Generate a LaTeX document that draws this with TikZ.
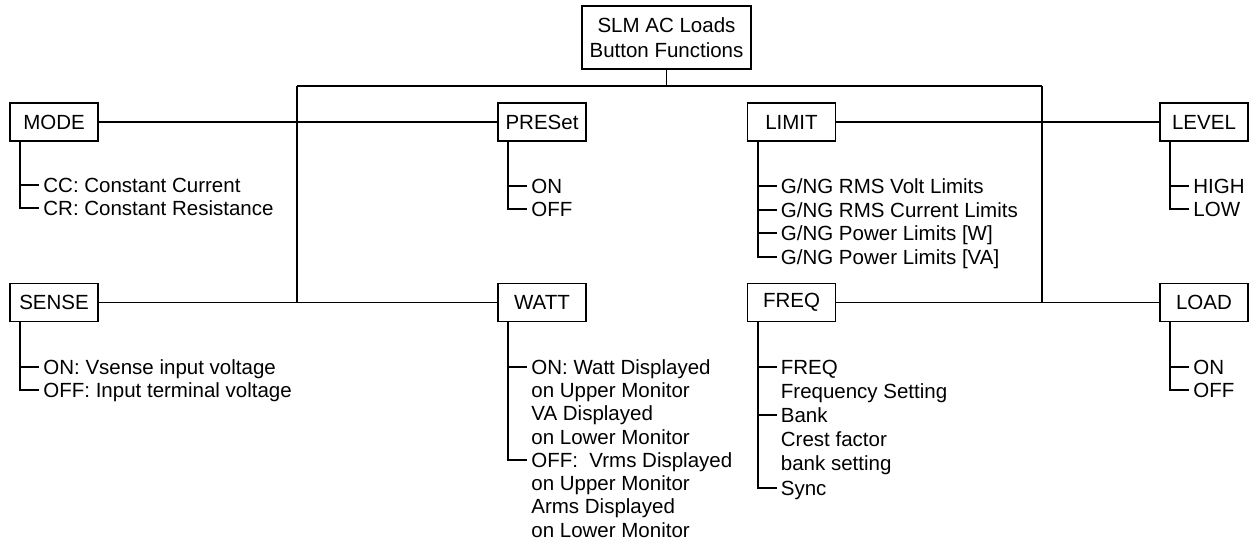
\documentclass[tikz,border=0pt]{standalone}
\usepackage{fontspec}
\setmainfont{Liberation Sans}
\usetikzlibrary{positioning}
\newcommand{\itemrows}[1]{\begin{tabular}[t]{@{}l@{}}#1\end{tabular}}

\begin{document}
\begin{tikzpicture}[x=0.5pt,y=-0.5pt,
        every node/.style={inner sep=0pt,font=\fontsize{10.25}{11.65}\selectfont},
        btn/.style={draw,line width=0.8pt,minimum width=44pt,minimum height=19pt},
        item/.style={anchor=west,text height=7.35pt,text depth=0pt},
        wide/.style={font=\fontsize{10.25}{12.1}\selectfont},
        wire/.style={line width=0.8pt}]
                \useasboundingbox (0,0) rectangle (1249,548);
                \node [btn,minimum width=84.5pt,minimum height=31.5pt,align=center,font=\fontsize{10.25}{12.5}\selectfont] (root) at (666.5,37.5) {SLM AC Loads\\Button Functions};
                \node [btn] (mode) at (54,122) {MODE};
                \node [btn] (preset) at (542,122) {PRESet};
                \node [btn] (limit) at (791.5,122) {LIMIT};
                \node [btn] (level) at (1204,122) {LEVEL};
                \node [btn] (sense) at (54,302.5) {SENSE};
                \node [btn] (watt) at (542,302.5) {WATT};
                \node [btn] (freq) at (791.5,302.5) {FREQ};
                \node [btn] (load) at (1204,302.5) {LOAD};
                \coordinate (busl) at (297,86);
                \coordinate (busr) at (1042,86);
                \draw [wire] (root.south) -- (root.south |- busl);
                \draw [wire] (busl) -- (busr);
                \draw [wire] (busl) -- (busl |- sense);
                \draw [wire] (busr) -- (busr |- load);
                \draw [wire] (mode) -- (preset);
                \draw [wire] (limit) -- (level);
                \draw [wire] (sense) -- (watt);
                \draw [wire] (freq) -- (load);
                \node [item] (mode1) at (43,185) {CC: Constant Current};
                \node [item] (mode2) at (43,208) {CR: Constant Resistance};
                \draw [wire] ([xshift=5.5pt]mode.south west) |- ([xshift=-2pt]mode2.west);
                \draw [wire] ([xshift=5.5pt]mode.south west |- mode1.west) -- ([xshift=-2pt]mode1.west);
                \node [item] (preset1) at (531,186) {ON};
                \node [item] (preset2) at (531,209) {OFF};
                \draw [wire] ([xshift=5.5pt]preset.south west) |- ([xshift=-2pt]preset2.west);
                \draw [wire] ([xshift=5.5pt]preset.south west |- preset1.west) -- ([xshift=-2pt]preset1.west);
                \node [item] (limit1) at (780.5,186) {G/NG RMS Volt Limits};
                \node [item] (limit2) at (780.5,210) {G/NG RMS Current Limits};
                \node [item] (limit3) at (780.5,233) {G/NG Power Limits [W]};
                \node [item] (limit4) at (780.5,257) {G/NG Power Limits [VA]};
                \draw [wire] ([xshift=5.5pt]limit.south west) |- ([xshift=-2pt]limit4.west);
                \draw [wire] ([xshift=5.5pt]limit.south west |- limit1.west) -- ([xshift=-2pt]limit1.west);
                \draw [wire] ([xshift=5.5pt]limit.south west |- limit2.west) -- ([xshift=-2pt]limit2.west);
                \draw [wire] ([xshift=5.5pt]limit.south west |- limit3.west) -- ([xshift=-2pt]limit3.west);
                \node [item] (level1) at (1193,186) {HIGH};
                \node [item] (level2) at (1193,209) {LOW};
                \draw [wire] ([xshift=5.5pt]level.south west) |- ([xshift=-2pt]level2.west);
                \draw [wire] ([xshift=5.5pt]level.south west |- level1.west) -- ([xshift=-2pt]level1.west);
                \node [item] (sense1) at (43,367) {ON: Vsense input voltage};
                \node [item] (sense2) at (43,390) {OFF: Input terminal voltage};
                \draw [wire] ([xshift=5.5pt]sense.south west) |- ([xshift=-2pt]sense2.west);
                \draw [wire] ([xshift=5.5pt]sense.south west |- sense1.west) -- ([xshift=-2pt]sense1.west);
                \node [item] (watt1) at (531,367) {\itemrows{ON: Watt Displayed\\on Upper Monitor\\VA Displayed\\on Lower Monitor}};
                \node [item] (watt2) at (531,460) {\itemrows{OFF:\ \ Vrms Displayed\\on Upper Monitor\\Arms Displayed\\on Lower Monitor}};
                \draw [wire] ([xshift=5.5pt]watt.south west) |- ([xshift=-2pt]watt2.west);
                \draw [wire] ([xshift=5.5pt]watt.south west |- watt1.west) -- ([xshift=-2pt]watt1.west);
                \node [item,wide] (freq1) at (780.5,367) {\itemrows{FREQ\\Frequency Setting}};
                \node [item,wide] (freq2) at (780.5,415) {\itemrows{Bank\\Crest factor\\bank setting}};
                \node [item,wide] (freq3) at (780.5,488) {Sync};
                \draw [wire] ([xshift=5.5pt]freq.south west) |- ([xshift=-2pt]freq3.west);
                \draw [wire] ([xshift=5.5pt]freq.south west |- freq1.west) -- ([xshift=-2pt]freq1.west);
                \draw [wire] ([xshift=5.5pt]freq.south west |- freq2.west) -- ([xshift=-2pt]freq2.west);
                \node [item] (load1) at (1193,367) {ON};
                \node [item] (load2) at (1193,390) {OFF};
                \draw [wire] ([xshift=5.5pt]load.south west) |- ([xshift=-2pt]load2.west);
                \draw [wire] ([xshift=5.5pt]load.south west |- load1.west) -- ([xshift=-2pt]load1.west);
\end{tikzpicture}
\end{document}
